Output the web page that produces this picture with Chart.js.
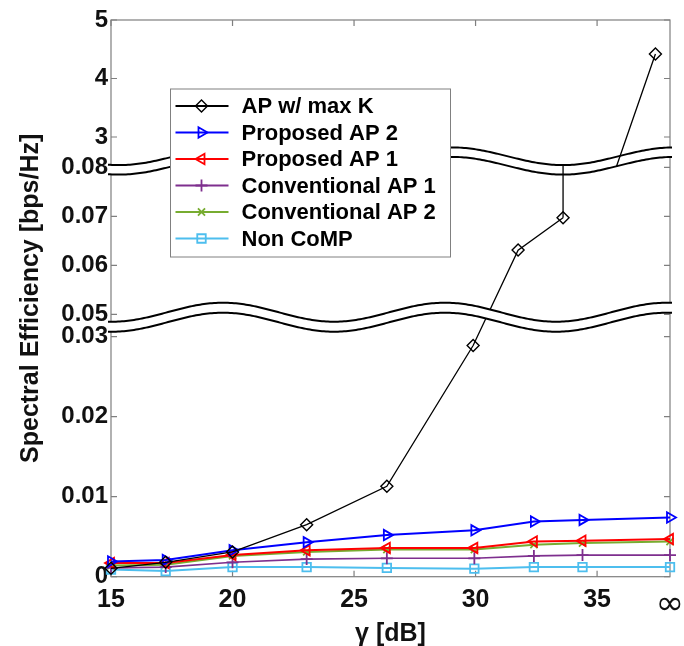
<!DOCTYPE html>
<html>
<head>
<meta charset="utf-8">
<script src="https://cdn.jsdelivr.net/npm/chart.js@4.4.1/dist/chart.umd.min.js"></script>
<style>
  html, body { margin: 0; padding: 0; background: #fff; }
  #wrap { width: 684px; height: 646px; position: relative; }
</style>
</head>
<body>
<div id="wrap"><canvas id="chart"></canvas></div>
<script>
// gamma [dB]; the last point of each curve is the "infinity" column
const gammaMaxK = [15, 17.25, 20, 23.05, 26.35, 29.9, 31.75, 33.6, 37.4];
const gammaSchemes = [15, 17.25, 20, 23.05, 26.35, 29.95, 32.4, 34.4, 38];

// spectral efficiency [bps/Hz]
const apMaxK = [0.00105, 0.0018, 0.0031, 0.0065, 0.0113, 0.0289, 0.0631, 0.0697, 4.42];
const proposedAp2 = [0.0019, 0.0021, 0.0033, 0.0043, 0.0052, 0.0058, 0.0069, 0.0071, 0.0074];
const proposedAp1 = [0.0017, 0.0017, 0.0027, 0.0033, 0.0036, 0.0036, 0.0044, 0.0045, 0.0047];
const conventionalAp1 = [0.0011, 0.0012, 0.0018, 0.0022, 0.0023, 0.0023, 0.0026, 0.0027, 0.0027];
const conventionalAp2 = [0.0014, 0.0015, 0.0026, 0.0031, 0.0034, 0.0034, 0.0040, 0.0042, 0.0044];
const nonComp = [0.0009, 0.0007, 0.0012, 0.0012, 0.0011, 0.0010, 0.0012, 0.0012, 0.0012];

const seriesNames = ['AP w/ max K', 'Proposed AP 2', 'Proposed AP 1',
  'Conventional AP 1', 'Conventional AP 2', 'Non CoMP'];

// axis ticks
const xTickValues = [15, 20, 25, 30, 35, 38];
const xTickLabels = ['15', '20', '25', '30', '35', '\u221e'];
const yTickValues = [0, 0.01, 0.02, 0.03, 0.05, 0.06, 0.07, 0.08, 3, 4, 5];
const yTickLabels = ['0', '0.01', '0.02', '0.03', '0.05', '0.06', '0.07', '0.08', '3', '4', '5'];

// broken y axis: every value range gets its own stretch of the axis
const ySegments = [
    { lo: 0, hi: 0.03, start: 0, len: 240 },
    { lo: 0.05, hi: 0.08, start: 262.4, len: 147 },
    { lo: 3, hi: 5, start: 439.7, len: 117 }
];
const Y_MAX = 556.7;

function toAxis(v) {
    let seg = ySegments[0];
    ySegments.forEach(s => { if (v >= s.lo) seg = s; });
    return seg.start + (v - seg.lo) / (seg.hi - seg.lo) * seg.len;
}

// wavy "break" bands (axis units for mid, pixels for the wave)
const breakBands = [
    { mid: 259.5, gap: 10, amp: 9.5, trough: 223 },
    { mid: 415.7, gap: 9.5, amp: 8.85, trough: 452 }
];
const WAVE_PERIOD = 222;

function bandCurve(chart, band, x, side) {
    const a = chart.chartArea;
    const yMid = chart.scales.y.getPixelForValue(band.mid);
    const w = band.amp * Math.cos(2 * Math.PI * (x - a.left - band.trough) / WAVE_PERIOD);
    return yMid + w + side * band.gap / 2;
}

function makeData(xs, ys) {
    return xs.map((g, i) => ({ x: g, y: toAxis(ys[i]) }));
}

const clear = 'rgba(0,0,0,0)';

// frame with inward ticks
const axisFrame = {
    id: 'axisFrame',
    beforeDatasetsDraw(chart) {
        const { ctx, chartArea: a, scales: { x, y } } = chart;
        const tick = 6;
        ctx.save();
        ctx.strokeStyle = '#7f7f7f';
        ctx.lineWidth = 1.2;
        ctx.strokeRect(a.left, a.top, a.right - a.left, a.bottom - a.top);
        ctx.beginPath();
        xTickValues.slice(0, -1).forEach(v => {
            const px = x.getPixelForValue(v);
            ctx.moveTo(px, a.bottom); ctx.lineTo(px, a.bottom - tick);
            ctx.moveTo(px, a.top); ctx.lineTo(px, a.top + tick);
        });
        yTickValues.forEach(v => {
            const py = y.getPixelForValue(toAxis(v));
            ctx.moveTo(a.left, py); ctx.lineTo(a.left + tick, py);
            ctx.moveTo(a.right, py); ctx.lineTo(a.right - tick, py);
        });
        ctx.stroke();
        ctx.restore();
    }
};

// break bands + the jump of the max-K curve into the top segment
const axisBreaks = {
    id: 'axisBreaks',
    afterDatasetsDraw(chart) {
        const { ctx, chartArea: a } = chart;
        const x0 = a.left - 3, x1 = a.right + 2;
        ctx.save();
        breakBands.forEach(band => {
            ctx.beginPath();
            for (let x = x0; x <= x1; x += 2) ctx.lineTo(x, bandCurve(chart, band, x, -1));
            for (let x = x1; x >= x0; x -= 2) ctx.lineTo(x, bandCurve(chart, band, x, 1));
            ctx.closePath();
            ctx.fillStyle = '#fff';
            ctx.fill();
            ctx.strokeStyle = '#000';
            ctx.lineWidth = 2;
            [-1, 1].forEach(side => {
                ctx.beginPath();
                for (let x = x0; x <= x1; x += 2) ctx.lineTo(x, bandCurve(chart, band, x, side));
                ctx.stroke();
            });
        });

        const k = apMaxK.findIndex(v => v >= ySegments[2].lo);
        const meta = chart.getDatasetMeta(0);
        const p0 = meta.data[k - 1], p1 = meta.data[k];
        const top = breakBands[1];
        const xb = chart.scales.x.getPixelForValue(35.8);
        ctx.strokeStyle = '#000';
        ctx.lineWidth = 1.3;
        ctx.beginPath();
        ctx.moveTo(p0.x, p0.y);
        ctx.lineTo(p0.x, bandCurve(chart, top, p0.x, -1));
        ctx.moveTo(xb, bandCurve(chart, top, xb, 1));
        ctx.lineTo(p1.x, p1.y);
        ctx.stroke();
        ctx.restore();
    }
};

// boxed legend inside the plot
const legendBox = {
    id: 'legendBox',
    afterDraw(chart) {
        const { ctx } = chart;
        const box = { left: 170.5, top: 89, width: 280, height: 168 };
        ctx.save();
        ctx.fillStyle = '#fff';
        ctx.fillRect(box.left, box.top, box.width, box.height);
        ctx.strokeStyle = '#808080';
        ctx.lineWidth = 1;
        ctx.strokeRect(box.left, box.top, box.width, box.height);
        chart.data.datasets.forEach((ds, i) => {
            const cy = box.top + 17 + i * 26.5;
            ctx.strokeStyle = ds.borderColor;
            ctx.lineWidth = 2;
            ctx.beginPath();
            ctx.moveTo(box.left + 5, cy);
            ctx.lineTo(box.left + 58, cy);
            ctx.stroke();
            ctx.fillStyle = clear;
            ctx.lineWidth = ds.pointBorderWidth;
            Chart.helpers.drawPoint(ctx, {
                pointStyle: ds.pointStyle, rotation: ds.pointRotation || 0,
                radius: ds.pointRadius, borderWidth: ds.pointBorderWidth
            }, box.left + 31, cy);
            ctx.fillStyle = '#000';
            ctx.font = 'bold 22px "Liberation Sans", Arial, sans-serif';
            ctx.textBaseline = 'middle';
            ctx.fillText(ds.label, 241.5, cy + 1);
        });
        ctx.restore();
    }
};

function series(label, xs, ys, color, style, extra) {
    return Object.assign({
        label: label,
        data: makeData(xs, ys),
        borderColor: color,
        borderWidth: 2,
        pointStyle: style,
        pointRadius: 6,
        pointBorderWidth: 1.8,
        pointBorderColor: color,
        pointBackgroundColor: clear,
        tension: 0,
        clip: false
    }, extra || {});
}

Chart.defaults.font.family = '"Liberation Sans", Arial, sans-serif';
Chart.defaults.color = '#111';

new Chart(document.getElementById('chart'), {
    type: 'line',
    data: {
        datasets: [
            series(seriesNames[0], gammaMaxK, apMaxK, '#000000', 'rectRot', {
                borderWidth: 1.3, pointBorderWidth: 1.4,
                segment: { borderColor: c => apMaxK[c.p1DataIndex] >= ySegments[2].lo ? clear : undefined }
            }),
            series(seriesNames[1], gammaSchemes, proposedAp2, '#0000ff', 'triangle', { pointRotation: 90 }),
            series(seriesNames[2], gammaSchemes, proposedAp1, '#ff0000', 'triangle', { pointRotation: -90 }),
            series(seriesNames[3], gammaSchemes, conventionalAp1, '#7e2f8e', 'cross', { borderWidth: 1.6 }),
            series(seriesNames[4], gammaSchemes, conventionalAp2, '#77ac30', 'crossRot', { pointRadius: 5 }),
            series(seriesNames[5], gammaSchemes, nonComp, '#4dbeee', 'rect')
        ]
    },
    options: {
        responsive: true,
        maintainAspectRatio: false,
        animation: false,
        layout: { padding: { top: 20, right: 14, bottom: 0, left: 0 } },
        plugins: { legend: { display: false }, tooltip: { enabled: false } },
        scales: {
            x: {
                type: 'linear', min: 15, max: 38,
                grid: { display: false, drawTicks: false },
                border: { display: false },
                afterBuildTicks: s => { s.ticks = xTickValues.map(v => ({ value: v })); },
                afterFit: s => { s.height = 69.3; s.paddingLeft = 0; s.paddingRight = 0; },
                ticks: {
                    autoSkip: false, maxRotation: 0, padding: 8, color: '#111',
                    callback: (v, i) => xTickLabels[i],
                    font: c => (c.tick && c.tick.value === 38)
                        ? { family: '"DejaVu Sans"', size: 34, weight: 'normal' }
                        : { size: 25, weight: 'bold' }
                },
                title: {
                    display: true, text: '\u03b3 [dB]', color: '#111',
                    font: { size: 25, weight: 'bold' }, padding: { top: 0, bottom: -3 }
                }
            },
            y: {
                type: 'linear', min: 0, max: Y_MAX,
                grid: { display: false, drawTicks: false },
                border: { display: false },
                afterBuildTicks: s => { s.ticks = yTickValues.map(v => ({ value: toAxis(v) })); },
                afterFit: s => { s.width = 111; s.paddingTop = 0; s.paddingBottom = 0; },
                ticks: {
                    autoSkip: false, padding: 3, color: '#111',
                    callback: (v, i) => yTickLabels[i],
                    font: { size: 24, weight: 'bold' }
                },
                title: {
                    display: true, text: 'Spectral Efficiency [bps/Hz]', color: '#111',
                    font: { size: 25, weight: 'bold' }, padding: { top: 16, bottom: 0 }
                }
            }
        }
    },
    plugins: [axisFrame, axisBreaks, legendBox]
});
</script>
</body>
</html>
